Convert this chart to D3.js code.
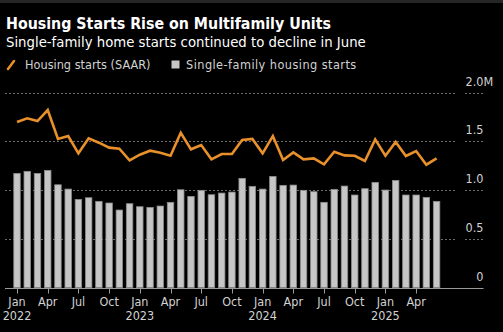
<!DOCTYPE html>
<html>
<head>
<meta charset="utf-8">
<script src="https://cdn.jsdelivr.net/npm/d3@7"></script>
<style>
  html, body { margin: 0; padding: 0; background: #000; }
  svg { display: block; }
  text { font-family: "DejaVu Sans Condensed", "DejaVu Sans", sans-serif; }
</style>
</head>
<body>
<svg id="chart" width="503" height="332"></svg>
<script>
// Monthly data, Jan 2022 – Jun 2025 (millions, SAAR)
const months = d3.timeMonth.range(new Date(2022, 0, 1), new Date(2025, 6, 1));

const totalStarts = [
  1.699, 1.737, 1.709, 1.822, 1.525, 1.555, 1.378, 1.532, 1.487, 1.436, 1.425, 1.306,
  1.364, 1.405, 1.384, 1.353, 1.589, 1.419, 1.463, 1.316, 1.371, 1.371, 1.514, 1.525,
  1.378, 1.555, 1.309, 1.388, 1.316, 1.326, 1.265, 1.394, 1.357, 1.353, 1.299, 1.521,
  1.353, 1.494, 1.350, 1.401, 1.261, 1.326
];

const singleFamily = [
  1.172, 1.193, 1.172, 1.203, 1.055, 1.011, 0.905, 0.922, 0.885, 0.868, 0.796, 0.861,
  0.830, 0.823, 0.837, 0.875, 1.004, 0.936, 0.998, 0.953, 0.970, 0.980, 1.121, 1.039,
  1.011, 1.141, 1.049, 1.052, 0.998, 0.984, 0.875, 1.008, 1.042, 0.950, 1.015, 1.080,
  1.001, 1.100, 0.950, 0.950, 0.926, 0.885
];

const yTicks = [0, 0.5, 1.0, 1.5, 2.0];
const yTickLabels = ["0", "0.5", "1.0", "1.5", "2.0"];
const yUnit = "M";
const quarterNames = { 0: "Jan", 3: "Apr", 6: "Jul", 9: "Oct" };

const title = "Housing Starts Rise on Multifamily Units";
const subtitle = "Single-family home starts continued to decline in June";
const legendItems = ["Housing starts (SAAR)", "Single-family housing starts"];

const colors = {
  line: "#e8912b",
  bar: "#c6c6c6",
  barStroke: "#8a8a8a",
  grid: "#6e6e6e",
  axis: "#9a9a9a",
  text: "#ffffff",
  tick: "#d2d2d2"
};

const svg = d3.select("#chart");
const W = 503, H = 332;

svg.append("rect").attr("width", W).attr("height", H).attr("fill", "#000");
svg.append("rect").attr("width", W).attr("height", 3).attr("fill", "#262626");

// Header
svg.append("text").attr("x", 6).attr("y", 29)
  .attr("fill", colors.text).attr("font-weight", "bold").attr("font-size", 15.8)
  .text(title);
svg.append("text").attr("x", 6).attr("y", 47)
  .attr("fill", colors.text).attr("font-size", 14.75)
  .text(subtitle);

// Legend
const lg = svg.append("g");
lg.append("line").attr("x1", 8).attr("y1", 69).attr("x2", 14).attr("y2", 61)
  .attr("stroke", colors.line).attr("stroke-width", 2.5).attr("stroke-linecap", "round");
lg.append("text").attr("x", 25).attr("y", 68.5).attr("fill", colors.tick).attr("font-size", 12.6)
  .text(legendItems[0]);
lg.append("rect").attr("x", 171.5).attr("y", 60.5).attr("width", 8).attr("height", 8)
  .attr("fill", colors.bar);
lg.append("text").attr("x", 186).attr("y", 68.5).attr("fill", colors.tick).attr("font-size", 12.6)
  .attr("letter-spacing", 0.45)
  .text(legendItems[1]);

// Scales
const x = d3.scaleBand()
  .domain(months.map(d => +d))
  .range([11.9, 441.7])
  .paddingInner(0.27)
  .paddingOuter(0.135);

const y = d3.scaleLinear().domain([0, 2.0]).range([287.6, 92.7]);

const plotLeft = 5, plotRight = 456, labelRight = 483.5;

// Gridlines (plot part + short segment under each label)
const grid = svg.append("g");
yTicks.filter(t => t > 0).forEach(t => {
  grid.append("line").attr("x1", plotLeft).attr("x2", plotRight)
    .attr("y1", Math.round(y(t)) + 0.5).attr("y2", Math.round(y(t)) + 0.5)
    .attr("stroke", colors.grid).attr("stroke-width", 1).attr("stroke-dasharray", "2,2");
  grid.append("line").attr("x1", 465).attr("x2", labelRight)
    .attr("y1", Math.round(y(t)) + 0.5).attr("y2", Math.round(y(t)) + 0.5)
    .attr("stroke", colors.grid).attr("stroke-width", 1).attr("stroke-dasharray", "2,2");
});

// Y labels, right-aligned numbers with unit hanging past the edge
yTicks.forEach((t, i) => {
  svg.append("text")
    .attr("x", labelRight).attr("y", y(t) - 7)
    .attr("text-anchor", "end")
    .attr("fill", colors.tick).attr("font-size", 12.5)
    .text(yTickLabels[i]);
  if (t === 2.0) {
    svg.append("text")
      .attr("x", labelRight).attr("y", y(t) - 7)
      .attr("fill", colors.tick).attr("font-size", 12.5)
      .text(yUnit);
  }
});

// Bars
svg.append("g").selectAll("rect")
  .data(months.map((d, i) => ({ d, v: singleFamily[i] })))
  .join("rect")
  .attr("x", p => x(+p.d) + 0.5)
  .attr("width", x.bandwidth() - 1)
  .attr("y", p => y(p.v))
  .attr("height", p => y(0) - y(p.v))
  .attr("fill", colors.bar)
  .attr("stroke", colors.barStroke)
  .attr("stroke-width", 0.8);

// Baseline axis with quarterly ticks
const axisG = svg.append("g").attr("transform", `translate(0,${Math.round(y(0)) + 0.5})`);
axisG.append("line").attr("x1", plotLeft).attr("x2", labelRight)
  .attr("stroke", colors.axis).attr("stroke-width", 1.2);

const quarters = months.filter(d => d.getMonth() % 3 === 0);
const cx = d => x(+d) + x.bandwidth() / 2;
axisG.selectAll("line.tick").data(quarters).join("line")
  .attr("class", "tick")
  .attr("x1", d => Math.round(cx(d)) + 0.5).attr("x2", d => Math.round(cx(d)) + 0.5)
  .attr("y1", 0).attr("y2", 5)
  .attr("stroke", colors.axis).attr("stroke-width", 1);

svg.append("g").selectAll("text").data(quarters).join("text")
  .attr("x", d => cx(d)).attr("y", 306)
  .attr("text-anchor", "middle")
  .attr("fill", colors.tick).attr("font-size", 12.5)
  .text(d => quarterNames[d.getMonth()]);

svg.append("g").selectAll("text").data(quarters.filter(d => d.getMonth() === 0)).join("text")
  .attr("x", d => cx(d)).attr("y", 320)
  .attr("text-anchor", "middle")
  .attr("fill", colors.tick).attr("font-size", 12.5)
  .text(d => d.getFullYear());

// Total starts line
const line = d3.line()
  .x((d, i) => cx(months[i]))
  .y(d => y(d));

svg.append("path")
  .datum(totalStarts)
  .attr("d", line)
  .attr("fill", "none")
  .attr("stroke", colors.line)
  .attr("stroke-width", 2.6)
  .attr("stroke-linejoin", "miter");
</script>
</body>
</html>
